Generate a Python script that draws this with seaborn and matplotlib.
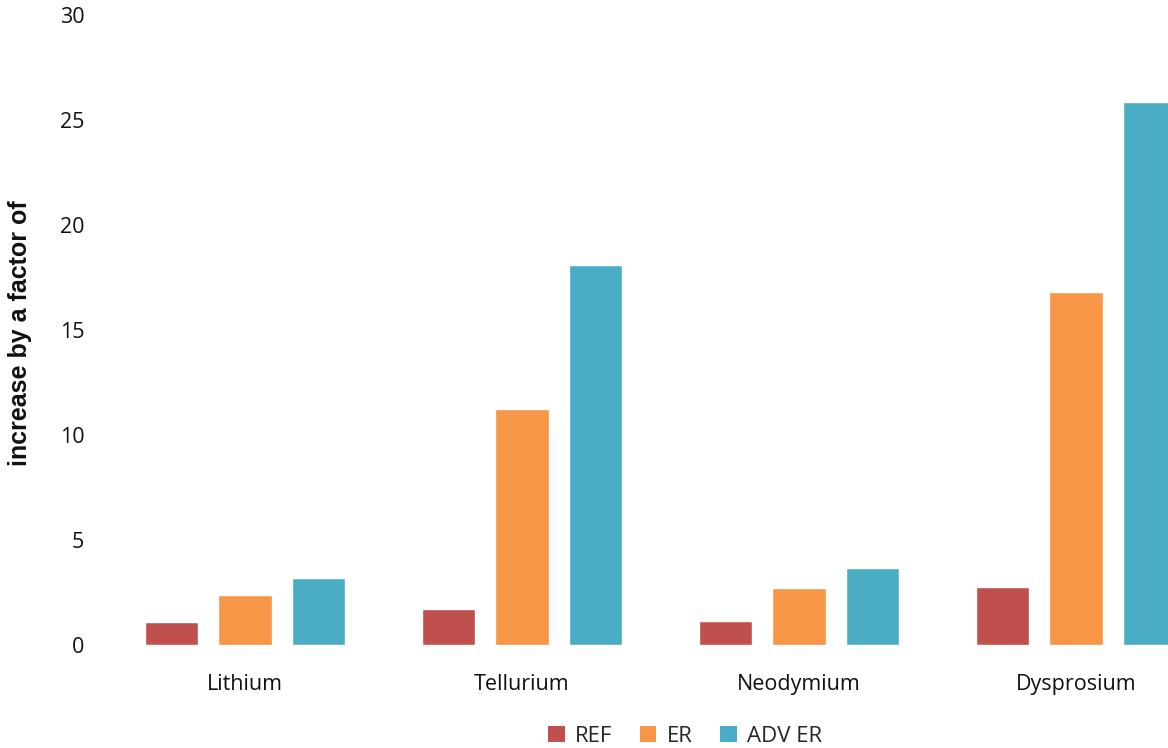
import matplotlib
matplotlib.use("Agg")
import matplotlib.pyplot as plt
import seaborn as sns
import pandas as pd
from matplotlib.patches import Patch

materials = ["Lithium", "Tellurium", "Neodymium", "Dysprosium"]
scenarios = ["REF", "ER", "ADV ER"]
ref_vals = [1.1, 1.7, 1.15, 2.75]
er_vals = [2.4, 11.25, 2.7, 16.8]
adv_vals = [3.2, 18.1, 3.65, 25.85]
y_ticks = [0, 5, 10, 15, 20, 25, 30]
colors = ["#C0504D", "#F79646", "#4BACC6"]

rows = []
for s, vals in zip(scenarios, [ref_vals, er_vals, adv_vals]):
    for m, v in zip(materials, vals):
        rows.append({"material": m, "scenario": s, "value": v})
df = pd.DataFrame(rows)

sns.set_style("white")
plt.rcParams["font.family"] = ["Open Sans", "DejaVu Sans"]

fig = plt.figure(figsize=(11.68, 7.48), dpi=100)
ax = fig.add_axes([106.5 / 1168, 103 / 748, 1108 / 1168, 630 / 748])

sns.barplot(data=df, x="material", y="value", hue="scenario", order=materials,
            hue_order=scenarios, palette=colors, width=0.8, gap=0.28,
            saturation=1, ax=ax, legend=False, errorbar=None)

ax.set_xlim(-0.5, 3.5)
ax.set_ylim(0, 30)
ax.set_yticks(y_ticks)
ax.set_yticklabels([str(t) for t in y_ticks], fontsize=15.5, color="#111111")
ax.tick_params(axis="x", labelsize=15.5, colors="#111111", length=0, pad=21)
ax.tick_params(axis="y", length=0, pad=16)
for sp in ax.spines.values():
    sp.set_visible(False)
ax.set_xlabel("")
ax.set_ylabel("increase by a factor of", family="Liberation Sans", fontweight="bold",
              fontsize=18, color="#111111")
ax.yaxis.set_label_coords(32 / 1168, (748 - 333) / 748, transform=fig.transFigure)

handles = [Patch(facecolor=c, edgecolor="none") for c in colors]
fig.legend(handles, scenarios, loc="center", bbox_to_anchor=(685 / 1168, 12 / 748),
           ncol=3, frameon=False, fontsize=16, handlelength=0.75, handleheight=0.75,
           columnspacing=1.25, handletextpad=0.45)

fig.savefig("out.png", dpi=100)
